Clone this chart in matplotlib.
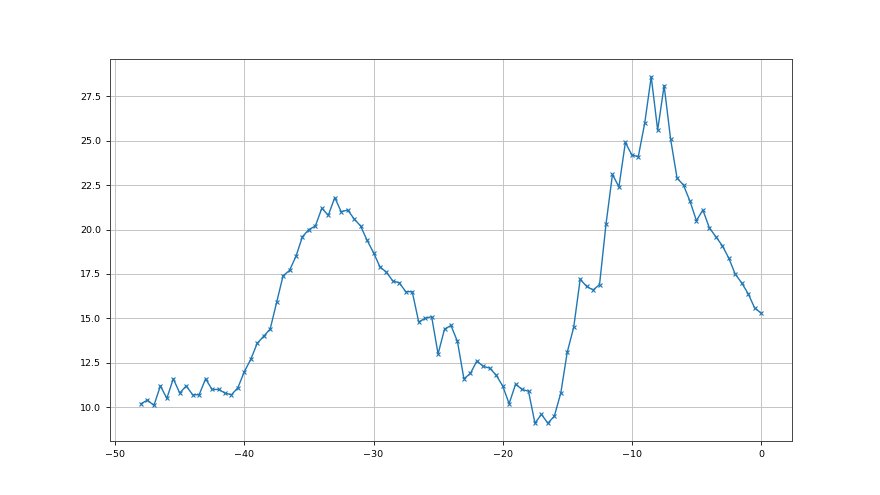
import matplotlib
matplotlib.use("Agg")
import matplotlib.pyplot as plt
import numpy as np

plt.rcParams['font.family'] = ['Liberation Sans Narrow', 'DejaVu Sans']
plt.rcParams['font.size'] = 6.8

# x runs from -48 to 0 in steps of 0.5
x = np.arange(-48, 0.01, 0.5)
y = [10.2, 10.4, 10.1, 11.2, 10.5, 11.6, 10.8, 11.2, 10.7, 10.7, 11.6, 11.0, 11.0, 10.8, 10.7, 11.1,
     12.0, 12.7, 13.6, 14.0, 14.4, 15.9, 17.4, 17.7, 18.5, 19.6, 20.0, 20.2, 21.2, 20.8, 21.8, 21.0, 21.1,
     20.6, 20.2, 19.4, 18.7, 17.9, 17.6, 17.1, 17.0, 16.5, 16.5, 14.8, 15.0, 15.1, 13.0, 14.4, 14.6,
     13.7, 11.6, 11.9, 12.6, 12.3, 12.2, 11.8, 11.2, 10.2, 11.3, 11.0, 10.9, 9.1, 9.6, 9.1, 9.5,
     10.8, 13.1, 14.5, 17.2, 16.8, 16.6, 16.9, 20.3, 23.1, 22.4, 24.9, 24.2, 24.1, 26.0, 28.6, 25.6, 28.1,
     25.1, 22.9, 22.5, 21.6, 20.5, 21.1, 20.1, 19.6, 19.1, 18.4, 17.5, 17.0, 16.4, 15.6, 15.3]

fig, ax = plt.subplots(figsize=(8.8, 4.95), dpi=100)
ax.plot(x, y, marker='x', markersize=3.5, markeredgewidth=0.8, linewidth=1.0, color='tab:blue')
ax.grid(True, color='#c4c4c4', linewidth=0.7)
ax.tick_params(length=3, width=0.6)
for s in ax.spines.values():
    s.set_linewidth(0.7)
    s.set_color('#444444')
fig.savefig("out.png")
